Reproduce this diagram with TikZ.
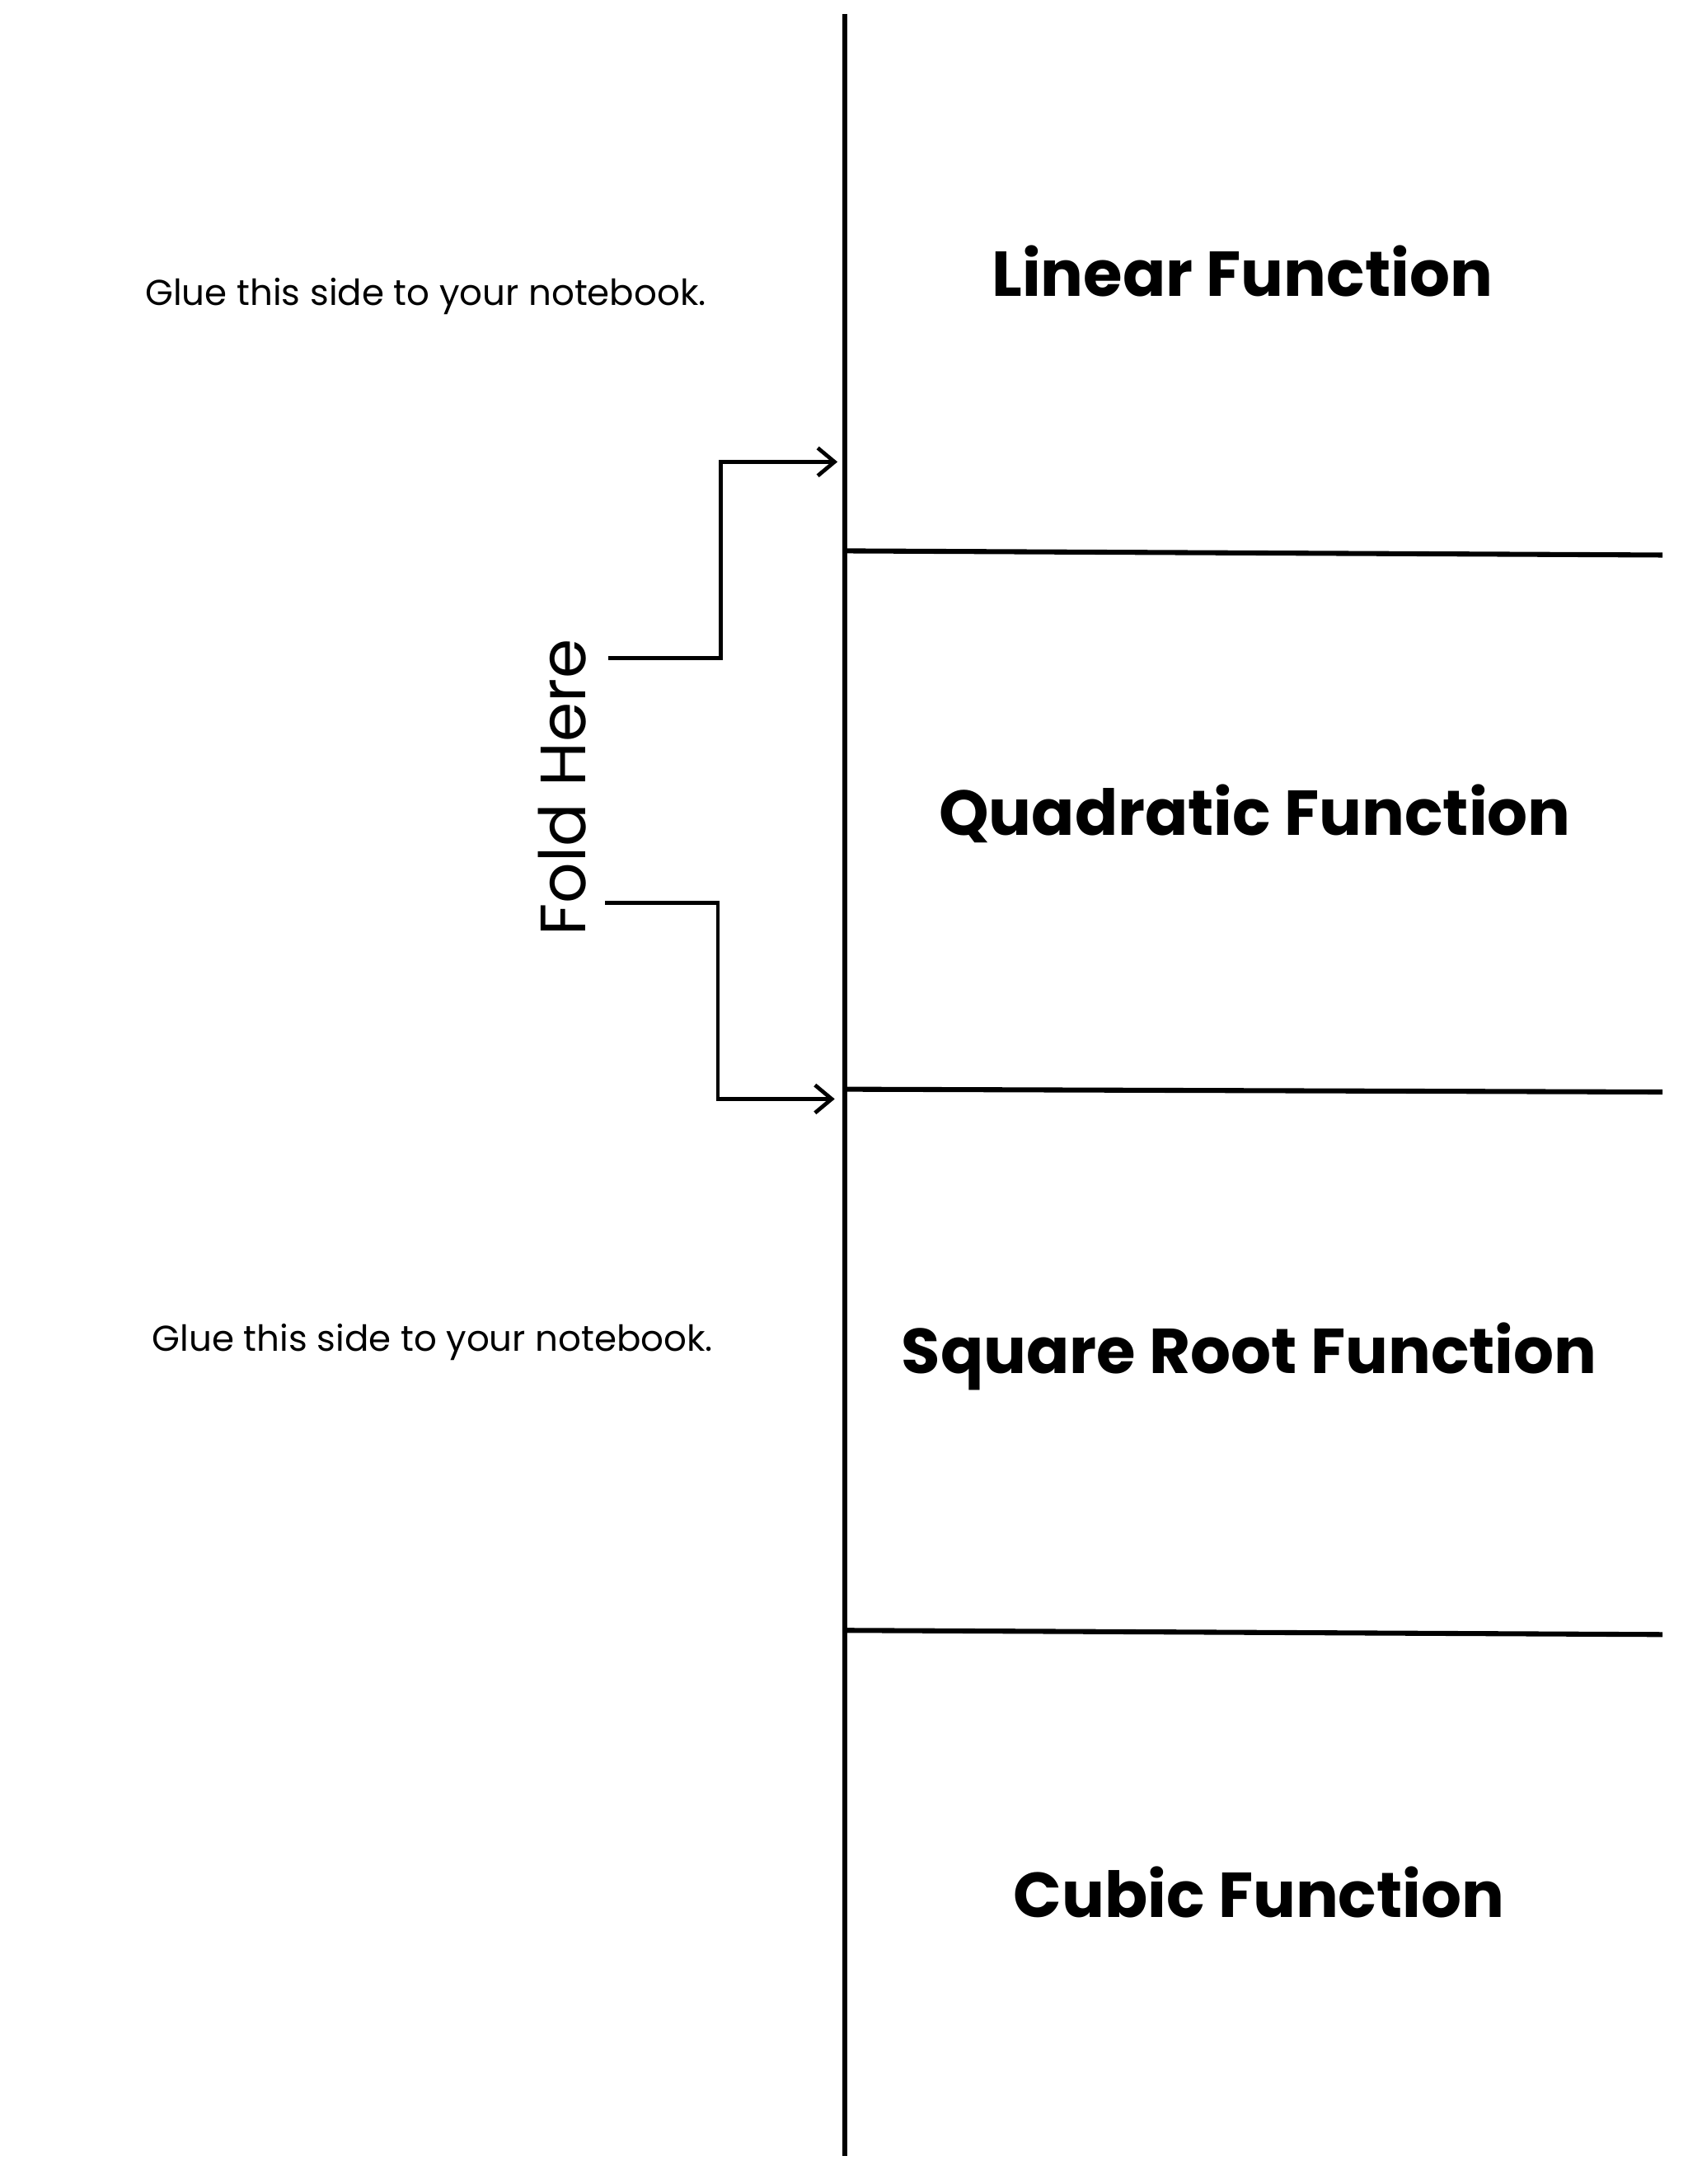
\documentclass[tikz,border=0pt]{standalone}
\usepackage{fontspec}
\setmainfont{Poppins}
\usetikzlibrary{arrows.meta}
\begin{document}
\begin{tikzpicture}[x=0.5pt,y=-0.5pt,
  ln/.style={line width=1.8pt,black},
  arr/.style={line width=1.4pt,-{Straight Barb[length=6pt,width=10pt]}},
  title/.style={font=\fontsize{22.8}{26}\selectfont\bfseries},
  glue/.style={font=\fontsize{12.9}{15}\selectfont}]
\useasboundingbox (0,0) rectangle (1213,1570);
\fill[white] (0,0) rectangle (1213,1570);
\coordinate (vt) at (607,10); \coordinate (vb) at (607,1550);
\draw[ln] (vt) -- (vb);
\coordinate (h1a) at (609,396); \coordinate (h1b) at (1195,399);
\coordinate (h2a) at (609,783); \coordinate (h2b) at (1195,785);
\coordinate (h3a) at (609,1172); \coordinate (h3b) at (1195,1175);
\draw[ln] (h1a)--(h1b); \draw[ln] (h2a)--(h2b); \draw[ln] (h3a)--(h3b);
\coordinate (a1s) at (437,473); \coordinate (a1e) at (602,332);
\coordinate (a2s) at (435,649); \coordinate (a2e) at (600,790);
\draw[arr] (a1s) -- (518,473) -- (518,332) -- (a1e);
\draw[arr] (a2s) -- (516,649) -- (516,790) -- (a2e);
\node[rotate=90,font=\fontsize{23}{26}\selectfont] (fold) at (404,566) {Fold Here};
\node[glue] (g1) at (306,213) {Glue this side to your notebook.};
\node[glue] (g2) at (311,965) {Glue this side to your notebook.};
\node[title] (t1) at (893,195) {Linear Function};
\node[title] (t2) at (902,585) {Quadratic Function};
\node[title] (t3) at (898,975) {Square Root Function};
\node[title] (t4) at (905,1360) {Cubic Function};
\end{tikzpicture}
\end{document}
